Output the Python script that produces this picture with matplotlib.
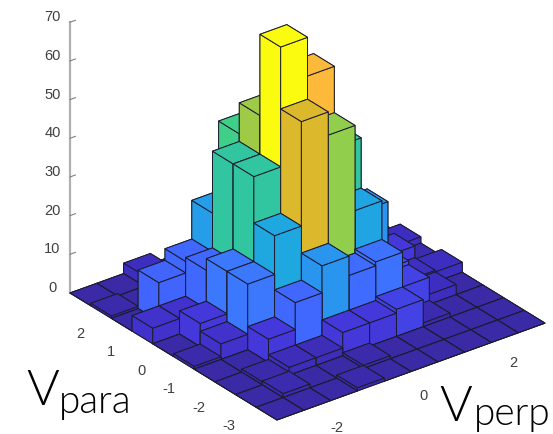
import numpy as np
import matplotlib
matplotlib.use("Agg")
import matplotlib.pyplot as plt
from matplotlib.colors import LinearSegmentedColormap
from mpl_toolkits.mplot3d import proj3d

# histogram counts, rows run from the back-left edge to the front corner
# columns run along Vperp from low to high
counts = [
    [0, 0, 2.7, 0, 0, 0, 0, 0, 0, 0],
    [0.6, 0, 2, 6, 6, 3, 0, 0, 0, 0],
    [0, 10, 13, 23, 41, 30, 15, 8, 3, 0],
    [4, 4, 14, 39, 49, 35, 25, 10, 3, 2.6],
    [0, 6, 17, 39, 70, 60, 39, 20, 6, 1],
    [0.7, 4, 17, 27, 54, 48, 26, 8, 3, 2.6],
    [0, 0, 6, 13, 20, 15, 16, 7, 2.6, 0],
    [0, 0.8, 2, 2, 6, 6, 7, 1, 0, 0],
    [0, 1, 0, 0, 0.8, 0, 0, 0, 0, 0],
    [0, 0, 0, 0.8, 0, 0, 0, 0, 0, 0],
]
para_edges = np.linspace(2.9, -3.95, 11)
perp_edges = np.linspace(-3.0, 3.0, 11)
para_ticks = [-3, -2, -1, 0, 1, 2]
perp_ticks = [-2, 0, 2]
height_ticks = [0, 10, 20, 30, 40, 50, 60, 70]

# colours, by bar height
color_heights = [0, 3, 6, 10, 14, 17, 20, 27, 39, 41, 48, 54, 60, 70]
color_values = ["#3a2aa6", "#3f2fc4", "#4439dd", "#4065fd", "#4068ff", "#3b78fd", "#2a95ee", "#1fa8e0",
                "#32c6a0", "#40cf88", "#8fce4c", "#dcb92c", "#fdb93a", "#fbfb10"]

plt.rcParams["font.family"] = ["Liberation Sans", "DejaVu Sans"]
plt.rcParams["axes.unicode_minus"] = False

cmap = LinearSegmentedColormap.from_list(
    "bars", [(h / 70, c) for h, c in zip(color_heights, color_values)])

fig = plt.figure(figsize=(5.53, 4.34), dpi=100)
ax = fig.add_axes([-0.5, -0.5, 2, 2], projection="3d", proj_type="ortho", computed_zorder=False)
ax.view_init(elev=28.1, azim=-127.5)
ax.set_xlim(-3.0, 3.0, view_margin=0)
ax.set_ylim(-3.95, 2.9, view_margin=0)
ax.set_zlim(0, 70, view_margin=0)

# back to front, so every bar paints over the ones behind it
order = 0
for i in range(10):
    for j in range(9, -1, -1):
        h = counts[i][j]
        ax.bar3d(perp_edges[j], para_edges[i + 1], 0, 0.6, para_edges[i] - para_edges[i + 1], h,
                 color=cmap(h / 70), edgecolor="#1c1c30", linewidth=0.7, shade=False, zorder=order)
        order += 1

ax.set_xticks(perp_ticks)
ax.set_yticks(para_ticks)
ax.set_zticks(height_ticks)
ax.grid(False)
for axis in (ax.xaxis, ax.yaxis, ax.zaxis):
    axis.set_pane_color((1, 1, 1, 0))
    axis.pane.set_edgecolor((1, 1, 1, 0))
    axis.line.set_color("#b0b0b0")
    axis.line.set_linewidth(1.6)
    axis._axinfo["tick"]["inward_factor"] = 0
    axis._axinfo["tick"]["outward_factor"] = 0.25
ax.xaxis.line.set_linewidth(0)
ax.yaxis.line.set_linewidth(0)
ax.tick_params(axis="x", labelsize=10.5, labelcolor="#404040", color="#909090", pad=6)
ax.tick_params(axis="y", labelsize=10.5, labelcolor="#404040", color="#909090", pad=7)
ax.tick_params(axis="z", labelsize=10.5, labelcolor="#404040", color="#808080", pad=4)
for lab in ax.get_zticklabels():
    lab.set_va("baseline")
for lab in ax.get_yticklabels():
    lab.set_ha("right")
for lab in ax.get_xticklabels():
    lab.set_ha("left")

# fit the floor corners onto their place in the picture
target_left = np.array([70, 434 - 293])
target_right = np.array([545, 434 - 323])


def floor_px(x, y):
    xp, yp, _ = proj3d.proj_transform(x, y, 0, ax.get_proj())
    return ax.transData.transform((xp, yp))


aspect = (338, 340, 307)
zoom = 1.0
for _ in range(3):
    ax.set_box_aspect(aspect, zoom=zoom)
    fig.canvas.draw()
    left = floor_px(-3.0, 2.9)
    right = floor_px(3.0, -3.95)
    zoom *= np.linalg.norm(target_right - target_left) / np.linalg.norm(right - left)
ax.set_box_aspect(aspect, zoom=zoom)
fig.canvas.draw()
shift = target_left - floor_px(-3.0, 2.9)
ax.set_position([-0.5 + shift[0] / 553, -0.5 + shift[1] / 434, 2, 2])

label_font = {"family": ["Lato", "DejaVu Sans"], "weight": 300, "color": "#000000"}
fig.text(26 / 553, 1 - 405 / 434, "V", fontsize=36, **label_font)
fig.text(59 / 553, 1 - 413 / 434, "para", fontsize=28, **label_font)
fig.text(439 / 553, 1 - 421 / 434, "V", fontsize=36, **label_font)
fig.text(474 / 553, 1 - 425 / 434, "perp", fontsize=28, **label_font)

fig.savefig("out.png", dpi=100)
